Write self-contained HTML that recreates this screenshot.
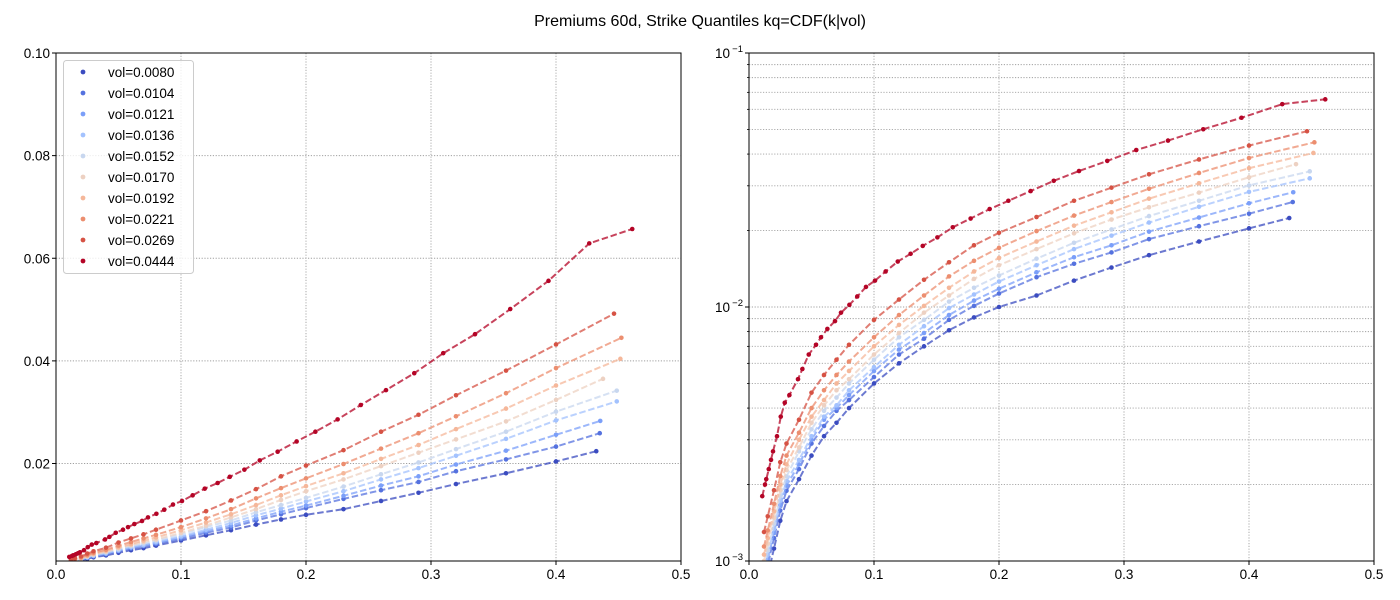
<!DOCTYPE html>
<html><head><meta charset="utf-8"><style>
body{margin:0;background:#fff}
svg{display:block;font-family:"Liberation Sans","DejaVu Sans",sans-serif}
</style></head><body>
<svg id="fig" width="1400" height="600" viewBox="0 0 1400 600" xmlns="http://www.w3.org/2000/svg">
<text x="700" y="26" text-anchor="middle" font-size="16" fill="#000">Premiums 60d, Strike Quantiles kq=CDF(k|vol)</text>
</svg>
<script>
const vols = ["0.0080","0.0104","0.0121","0.0136","0.0152","0.0170","0.0192","0.0221","0.0269","0.0444"];
const colors = ["#3b4cc0","#5572df","#7b9ff9","#a3c2fe","#c8d7ef","#edd1c2","#f5b79a","#ec8e6f","#d65244","#b40426"];
const gridX = [0.012,0.015,0.02,0.025,0.03,0.04,0.05,0.06,0.07,0.08,0.1,0.12,0.14,0.16,0.18,0.2,0.23,0.26,0.29,0.32,0.36,0.40];
const s0080 = [0.00076,0.00088,0.00112,0.00144,0.00172,0.0021,0.0026,0.0031,0.0035,0.0040,0.0050,0.0060,0.0070,0.0081,0.0091,0.0100,0.0111,0.0127,0.0143,0.0160,0.0181,0.0204,0.0224];
const s0104 = [0.00084,0.00097,0.00123,0.00158,0.00189,0.0023,0.0029,0.0034,0.0039,0.0043,0.0053,0.0065,0.0075,0.0089,0.0101,0.0113,0.0131,0.0148,0.0164,0.0185,0.0208,0.0233,0.0259];
const s0121 = [0.00087,0.00101,0.00129,0.00166,0.00198,0.0024,0.0030,0.0036,0.0040,0.0045,0.0056,0.0068,0.0079,0.0093,0.0106,0.0118,0.0137,0.0157,0.0175,0.0198,0.0225,0.0256,0.0283];
const s0136 = [0.00091,0.00106,0.00134,0.00173,0.00206,0.0025,0.0031,0.0037,0.0041,0.0047,0.0058,0.0071,0.0084,0.0099,0.0112,0.0126,0.0146,0.0169,0.0191,0.0215,0.0248,0.0284,0.0321];
const s0152 = [0.00095,0.0011,0.0014,0.0018,0.00215,0.0027,0.0033,0.0039,0.0044,0.0050,0.0062,0.0076,0.0089,0.0105,0.0119,0.0133,0.0155,0.0179,0.0202,0.0228,0.0262,0.0301,0.0342];
const s0170 = [0.0010,0.00117,0.00148,0.0019,0.00228,0.0028,0.0035,0.0041,0.0047,0.0052,0.0065,0.0079,0.0095,0.0111,0.0129,0.0146,0.0169,0.0195,0.0221,0.0247,0.0282,0.0324,0.0365];
const s0192 = [0.00106,0.00123,0.00157,0.0020,0.0024,0.0030,0.0037,0.0043,0.0050,0.0056,0.0070,0.0085,0.0101,0.0119,0.0138,0.0156,0.0181,0.0209,0.0236,0.0267,0.0307,0.0352,0.0404];
const s0221 = [0.00114,0.00132,0.00168,0.00216,0.0026,0.0032,0.0040,0.0047,0.0054,0.0061,0.0076,0.0093,0.0111,0.0132,0.0152,0.0171,0.0199,0.0229,0.0259,0.0292,0.0337,0.0386,0.0445];
const s0269 = [0.0013,0.0015,0.0019,0.00245,0.0029,0.0036,0.0046,0.0054,0.0062,0.0071,0.0089,0.0107,0.0128,0.0150,0.0175,0.0196,0.0226,0.0262,0.0295,0.0333,0.0381,0.0432,0.0492];
const endX = [0.4322,0.435,0.4354,0.4486,0.4486,0.4376,0.4515,0.4523,0.4464];
const redX = [0.0106,0.0128,0.0138,0.0158,0.0176,0.0192,0.0224,0.0254,0.0286,0.0323,0.0392,0.0427,0.0478,0.0536,0.0576,0.0627,0.0688,0.0736,0.0803,0.0866,0.0936,0.1008,0.1093,0.119,0.1293,0.139,0.1507,0.163,0.1773,0.1925,0.2075,0.2253,0.2438,0.264,0.2866,0.3098,0.3352,0.3634,0.394,0.4266,0.461];
const redY = [0.0018,0.0020,0.0021,0.0023,0.0025,0.0027,0.0031,0.0037,0.0042,0.0045,0.0052,0.0057,0.0065,0.0071,0.0076,0.0082,0.0088,0.0095,0.0102,0.0110,0.0120,0.0127,0.0138,0.0151,0.0162,0.0174,0.0188,0.0206,0.0223,0.0243,0.0262,0.0286,0.0314,0.0343,0.0376,0.0415,0.0452,0.0501,0.0556,0.0629,0.0657];
const xTicks = [0,0.1,0.2,0.3,0.4,0.5];
const xTickLabels = ["0.0","0.1","0.2","0.3","0.4","0.5"];
const yTicksLin = [0.02,0.04,0.06,0.08,0.10];
const yTickLabelsLin = ["0.02","0.04","0.06","0.08","0.10"];
const yTicksLog = [-3,-2,-1];

const NS="http://www.w3.org/2000/svg";
const svg=document.getElementById('fig');
function mk(tag,attrs,parent){const e=document.createElementNS(NS,tag);for(const k in attrs)e.setAttribute(k,attrs[k]);(parent||svg).appendChild(e);return e;}

const lowSeries=[s0080,s0104,s0121,s0136,s0152,s0170,s0192,s0221,s0269];
const series=[];
lowSeries.forEach((ys,i)=>{const xs=gridX.concat([endX[i]]);series.push({xs:xs,ys:ys});});
series.push({xs:redX,ys:redY});

const T=53,B=561;
const panels=[{L:56,R:681,log:false,name:'linear'},{L:749,R:1374,log:true,name:'log'}];
panels.forEach((p,pi)=>{
  const sx=v=>p.L+(v-0)/(0.5)*(p.R-p.L);
  const sy=p.log?(v=>B-(Math.log10(v)+3)/2*(B-T)):(v=>B-(v-0.001)/(0.1-0.001)*(B-T));
  const g=mk('g',{});
  
  
  const cid='clip'+pi;
  const cp=mk('clipPath',{id:cid},g);mk('rect',{x:p.L,y:T,width:p.R-p.L,height:B-T},cp);
  const grid=mk('g',{stroke:'#a0a0a0','stroke-width':0.9,'stroke-dasharray':'1.2,1.6'},g);
  
  
  xTicks.forEach(t=>mk('line',{x1:sx(t),x2:sx(t),y1:T,y2:B},grid));
  if(!p.log){yTicksLin.forEach(t=>mk('line',{x1:p.L,x2:p.R,y1:sy(t),y2:sy(t)},grid));}
  else{for(let d=-3;d<-1;d++){for(let m=1;m<10;m++){const v=m*Math.pow(10,d);if(v<=0.001)continue;mk('line',{x1:p.L,x2:p.R,y1:sy(v),y2:sy(v)},grid);}}}
  const sg=mk('g',{'clip-path':'url(#'+cid+')'},g);
  series.forEach((s,i)=>{
    const pts=s.xs.map((x,j)=>sx(x).toFixed(1)+','+sy(s.ys[j]).toFixed(1)).join(' ');
    const line=mk('polyline',{points:pts,fill:'none',stroke:colors[i],'stroke-opacity':0.75,'stroke-width':2,'stroke-dasharray':'6.5,2.8'},sg);
    
    
    s.xs.forEach((x,j)=>{
      const c=mk('circle',{cx:sx(x),cy:sy(s.ys[j]),r:2.3,fill:colors[i]},sg);
      
      
    });
  });
  const fr=mk('rect',{x:p.L,y:T,width:p.R-p.L,height:B-T,fill:'none',stroke:'#000','stroke-width':1},g);
  
  
  xTicks.forEach((t,k)=>{
    mk('line',{x1:sx(t),x2:sx(t),y1:B,y2:B+4,stroke:'#000'},g);
    const tx=mk('text',{x:sx(t),y:B+18,'text-anchor':'middle','font-size':13.5,fill:'#000'},g);
    tx.textContent=xTickLabels[k];
    
    
  });
  if(!p.log){
    yTicksLin.forEach((t,k)=>{
      mk('line',{x1:p.L-4,x2:p.L,y1:sy(t),y2:sy(t),stroke:'#000'},g);
      const tx=mk('text',{x:p.L-6,y:sy(t)+5,'text-anchor':'end','font-size':13.5,fill:'#000'},g);
      tx.textContent=yTickLabelsLin[k];
      
      
    });
  } else {
    for(let d=-3;d<-1;d++){for(let m=2;m<10;m++){const v=m*Math.pow(10,d);mk('line',{x1:p.L-2,x2:p.L,y1:sy(v),y2:sy(v),stroke:'#000','stroke-width':0.8},g);}}
    yTicksLog.forEach(e=>{
      mk('line',{x1:p.L-4,x2:p.L,y1:sy(Math.pow(10,e)),y2:sy(Math.pow(10,e)),stroke:'#000'},g);
      const tx=mk('text',{x:p.L-19,y:sy(Math.pow(10,e))+5,'text-anchor':'end','font-size':13.5,fill:'#000'},g);
      tx.textContent='10';
      
      
      const sup=mk('text',{x:p.L-6,y:sy(Math.pow(10,e))-1,'text-anchor':'end','font-size':9.5,fill:'#000'},g);
      sup.textContent='\u2212'+(-e);
      
      
    });
  }
});
const lg=mk('g',{});


mk('rect',{x:63.5,y:60.5,width:130,height:213,rx:3,fill:'#fff','fill-opacity':0.8,stroke:'#cccccc'},lg);
vols.forEach((v,i)=>{
  const y=71+i*21;
  const e=mk('g',{},lg);
  
  
  mk('circle',{cx:83,cy:y+1,r:2.4,fill:colors[i]},e);
  const t=mk('text',{x:108,y:y+6,'font-size':13.5,fill:'#000'},e);
  t.textContent='vol='+v;
});
</script>
</body></html>
